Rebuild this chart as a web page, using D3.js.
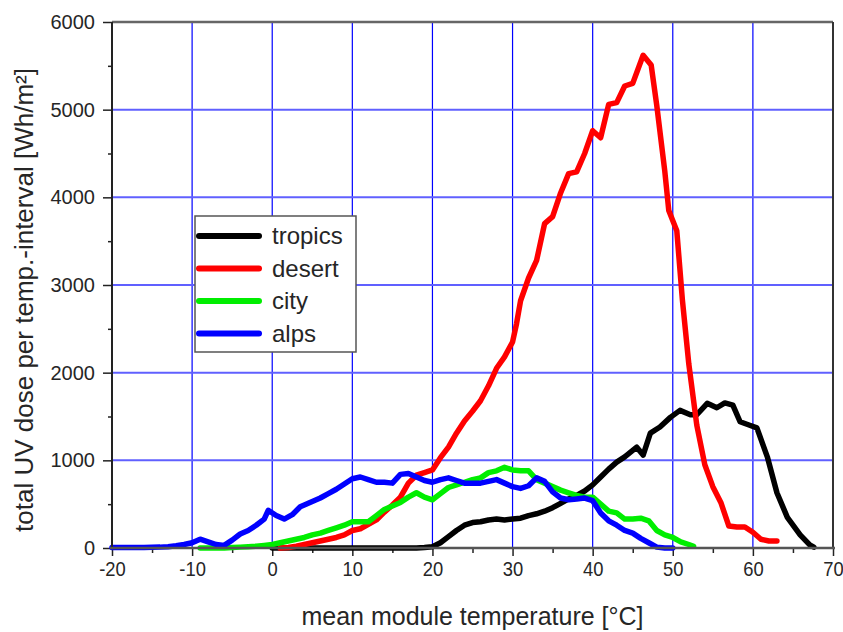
<!DOCTYPE html>
<html>
<head>
<meta charset="utf-8">
<script src="https://cdn.jsdelivr.net/npm/d3@7"></script>
<style>
  body { margin: 0; background: #fff; }
  text { font-family: "Liberation Sans", Arial, sans-serif; fill: #262626; }
</style>
</head>
<body>
<div class="chart"></div>
<script>
// chart values
var xTicks = [-20, -10, 0, 10, 20, 30, 40, 50, 60, 70];
var yTicks = [0, 1000, 2000, 3000, 4000, 5000, 6000];
var seriesNames = ["tropics", "desert", "city", "alps"];
var seriesColors = ["#000000", "#ff0000", "#00ee00", "#0000ff"];

var tropicsT = [0, 2, 4, 6, 8, 10, 12, 14, 16, 18, 19, 20, 21, 22, 23, 24, 25, 26, 27, 28, 29, 30, 31, 32, 33, 34, 35, 36, 37, 38, 39, 40, 41, 42, 43, 44, 45.5, 46.3, 47.2, 48.4, 49.7, 50.9, 52.2, 53, 54.3, 55.5, 56.5, 57.5, 58.4, 59.6, 60.5, 61.8, 63, 64.3, 65.9, 67.1, 67.6];
var tropicsV = [0, 0, 0, 0, 0, 0, 0, 0, 0, 0, 5, 15, 60, 130, 200, 260, 290, 300, 320, 330, 320, 330, 340, 370, 390, 420, 460, 510, 560, 600, 650, 720, 810, 900, 980, 1040, 1150, 1060, 1310, 1380, 1490, 1570, 1520, 1520, 1650, 1600, 1655, 1630, 1440, 1400, 1370, 1040, 630, 350, 150, 35, 10];

var desertT = [1, 2, 3, 4, 5, 6, 7, 8, 9, 10, 11, 12, 13, 14, 15, 16, 17, 18, 19, 20, 21, 22, 23, 24, 25, 26, 27, 28, 29, 30, 30.5, 31, 32, 33, 34, 35, 36, 37, 38, 39, 40, 41, 42, 43, 44, 45, 46.3, 47.3, 48, 49, 49.5, 50.5, 51.2, 52, 53, 54, 55, 56, 57, 58, 59, 60, 61, 62, 63];
var desertV = [0, 5, 20, 40, 60, 80, 100, 120, 150, 200, 220, 270, 320, 410, 490, 580, 740, 830, 860, 890, 1030, 1150, 1310, 1450, 1560, 1680, 1850, 2050, 2180, 2350, 2560, 2820, 3080, 3280, 3700, 3780, 4050, 4270, 4290, 4500, 4760, 4680, 5060, 5080, 5270, 5300, 5620, 5510, 5050, 4300, 3850, 3620, 2830, 2100, 1400, 950, 700, 520, 250, 240, 240, 180, 100, 80, 80];

var cityT = [-9, -8, -7, -6, -5, -4, -3, -2, -1, 0, 1, 2, 3, 4, 5, 6, 7, 8, 9, 10, 11, 12, 13, 14, 15, 16, 17, 18, 19, 20, 21, 22, 23, 24, 25, 26, 27, 28, 29, 30, 31, 32, 33, 34, 35, 36, 37, 38, 39, 40, 41, 42, 43, 44, 45, 46, 47, 48, 49, 50, 51, 52, 52.6];
var cityV = [0, 0, 0, 0, 5, 10, 15, 20, 30, 40, 60, 80, 100, 120, 150, 170, 200, 230, 260, 300, 300, 300, 370, 440, 480, 520, 580, 630, 580, 550, 620, 690, 720, 750, 780, 800, 860, 880, 920, 890, 880, 880, 780, 740, 700, 660, 630, 600, 580, 580, 500, 420, 400, 330, 330, 340, 310, 200, 150, 120, 70, 40, 20];

var alpsT = [-20, -18, -16, -14, -13, -12, -11, -10, -9, -8, -7, -6, -5, -4, -3, -2, -1, -0.5, 0.5, 1.5, 2.5, 3.5, 4, 5, 6, 7, 8, 9, 10, 11, 12, 13, 14, 15, 16, 17, 18, 19, 20, 21, 22, 23, 24, 25, 26, 27, 28, 29, 30, 31, 32, 33, 34, 35, 36, 37, 38, 39, 40, 41, 42, 43, 44, 45, 46, 47, 48, 49, 50];
var alpsV = [5, 5, 5, 10, 15, 25, 40, 60, 100, 70, 40, 30, 90, 160, 200, 260, 330, 430, 370, 330, 380, 470, 490, 530, 570, 620, 670, 730, 790, 810, 780, 750, 750, 740, 840, 850, 810, 770, 750, 780, 800, 770, 740, 740, 740, 760, 780, 740, 700, 680, 710, 800, 760, 640, 570, 550, 560, 570, 540, 400, 310, 260, 200, 170, 110, 60, 10, 0, 0];

var svgWidth = 843;
var svgHeight = 632;
var margin = { top: 22, right: 10, bottom: 84, left: 112 };
var width = svgWidth - margin.left - margin.right;
var height = svgHeight - margin.top - margin.bottom;

var svg = d3.select(".chart")
  .append("svg")
  .attr("width", svgWidth)
  .attr("height", svgHeight);

var chartGroup = svg.append("g")
  .attr("transform", `translate(${margin.left}, ${margin.top})`);

var xScale = d3.scaleLinear().domain([-20, 70]).range([0, width]);
var yScale = d3.scaleLinear().domain([0, 6000]).range([height, 0]);

// grid lines
chartGroup.selectAll(".vgrid")
  .data(xTicks.slice(1, -1))
  .enter()
  .append("line")
  .attr("x1", d => xScale(d)).attr("x2", d => xScale(d))
  .attr("y1", 0).attr("y2", height)
  .attr("stroke", "#0000ff")
  .attr("stroke-width", 1.2);

chartGroup.selectAll(".hgrid")
  .data(yTicks.slice(1, -1))
  .enter()
  .append("line")
  .attr("x1", 0).attr("x2", width)
  .attr("y1", d => yScale(d)).attr("y2", d => yScale(d))
  .attr("stroke", "#6060ff")
  .attr("stroke-width", 2);

// minor + major ticks
var xMinor = d3.range(-15, 70, 10);
var yMinor = d3.range(500, 6000, 1000);

var bottomAxis = d3.axisBottom(xScale).tickValues(xTicks).tickSize(8).tickPadding(6).tickFormat(d => String(d));
var leftAxis = d3.axisLeft(yScale).tickValues(yTicks).tickSize(9).tickPadding(8).tickFormat(d => String(d));

var xAxisG = chartGroup.append("g")
  .attr("transform", `translate(0, ${height})`)
  .call(bottomAxis);
var yAxisG = chartGroup.append("g").call(leftAxis);

chartGroup.append("g")
  .attr("transform", `translate(0, ${height})`)
  .call(d3.axisBottom(xScale).tickValues(xMinor).tickSize(5).tickFormat(""));
chartGroup.append("g")
  .call(d3.axisLeft(yScale).tickValues(yMinor).tickSize(4).tickFormat(""));

chartGroup.selectAll(".domain").remove();
chartGroup.selectAll(".tick line").attr("stroke", "#222").attr("stroke-width", 1.5);
xAxisG.selectAll("text").attr("font-size", 20).attr("fill", "#262626")
  .attr("transform", "scale(0.92, 1)");
yAxisG.selectAll("text").attr("font-size", 20).attr("fill", "#262626");

// series lines
var line = d3.line()
  .x(d => xScale(d[0]))
  .y(d => yScale(d[1]));

var seriesData = [
  d3.zip(tropicsT, tropicsV),
  d3.zip(desertT, desertV),
  d3.zip(cityT, cityV),
  d3.zip(alpsT, alpsV)
];

chartGroup.selectAll(".series")
  .data(seriesData)
  .enter()
  .append("path")
  .attr("d", line)
  .attr("fill", "none")
  .attr("stroke", (d, i) => seriesColors[i])
  .attr("stroke-width", 5.5)
  .attr("stroke-linejoin", "round")
  .attr("stroke-linecap", "round");

// plot frame
chartGroup.append("line").attr("x1", 0).attr("x2", width).attr("y1", 0).attr("y2", 0)
  .attr("stroke", "#666").attr("stroke-width", 2.5);
chartGroup.append("line").attr("x1", width).attr("x2", width).attr("y1", 0).attr("y2", height)
  .attr("stroke", "#333").attr("stroke-width", 2);
chartGroup.append("line").attr("x1", 0).attr("x2", 0).attr("y1", 0).attr("y2", height)
  .attr("stroke", "#222").attr("stroke-width", 2);
chartGroup.append("line").attr("x1", -2).attr("x2", width + 2).attr("y1", height).attr("y2", height)
  .attr("stroke", "#555").attr("stroke-width", 2.5);

// legend
var legend = svg.append("g");
legend.append("rect")
  .attr("x", 195).attr("y", 216)
  .attr("width", 161).attr("height", 136)
  .attr("fill", "#fff")
  .attr("stroke", "#555")
  .attr("stroke-width", 1.5);

var legendItems = legend.selectAll(".item")
  .data(seriesNames)
  .enter()
  .append("g")
  .attr("transform", (d, i) => `translate(0, ${236 + i * 32.5})`);

legendItems.append("line")
  .attr("x1", 199).attr("x2", 259)
  .attr("y1", 0).attr("y2", 0)
  .attr("stroke", (d, i) => seriesColors[i])
  .attr("stroke-width", 6)
  .attr("stroke-linecap", "round");

legendItems.append("text")
  .attr("x", 272).attr("y", 8)
  .attr("font-size", 24)
  .text(d => d);

// axis titles
svg.append("text")
  .attr("x", margin.left + width / 2)
  .attr("y", 625)
  .attr("text-anchor", "middle")
  .attr("font-size", 25)
  .text("mean module temperature [°C]");

svg.append("text")
  .attr("transform", "translate(33, 300) rotate(-90)")
  .attr("text-anchor", "middle")
  .attr("font-size", 26)
  .text("total UV dose per temp.-interval [Wh/m²]");
</script>
</body>
</html>
